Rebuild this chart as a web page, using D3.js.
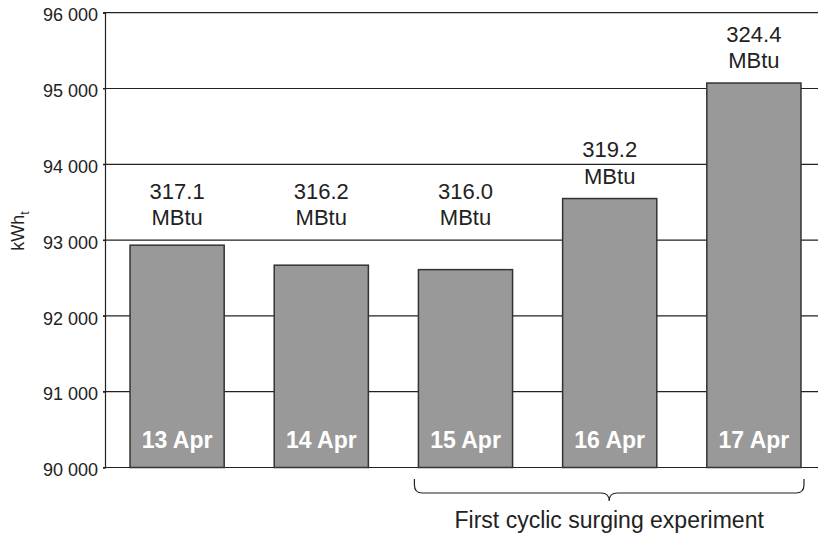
<!DOCTYPE html>
<html>
<head>
<meta charset="utf-8">
<script src="https://cdnjs.cloudflare.com/ajax/libs/d3/7.8.5/d3.min.js"></script>
<style>
  html, body { margin: 0; padding: 0; background: #fff; }
  text { font-family: "Liberation Sans", Arial, sans-serif; }
</style>
</head>
<body>
<svg id="chart" width="819" height="536"></svg>
<script>
// Daily thermal energy, April
const days = ["13 Apr", "14 Apr", "15 Apr", "16 Apr", "17 Apr"];
const mbtu = [317.1, 316.2, 316.0, 319.2, 324.4];
const KWH_PER_MBTU = 293.071;
const kwh = mbtu.map(v => v * KWH_PER_MBTU);
const yTicks = [90000, 91000, 92000, 93000, 94000, 95000, 96000];
const experimentDays = ["15 Apr", "16 Apr", "17 Apr"];
const experimentLabel = "First cyclic surging experiment";

const svg = d3.select("#chart");
const plotLeft = 105, plotRight = 818, plotTop = 12.7, plotBottom = 467.5;

const x = d3.scaleBand().domain(days).range([plotLeft, 826]).paddingInner(0.347).paddingOuter(0.1735);
const y = d3.scaleLinear().domain([90000, 96000]).range([plotBottom, plotTop]);

// gridlines
svg.append("g").selectAll("line").data(yTicks).join("line")
  .attr("x1", plotLeft - 2).attr("x2", plotRight)
  .attr("y1", d => y(d)).attr("y2", d => y(d))
  .attr("stroke", "#222").attr("stroke-width", 1.2);

// y axis
const yAxis = d3.axisLeft(y).tickValues(yTicks).tickSize(2).tickPadding(5)
  .tickFormat(d => d3.format(",")(d).replace(",", " "));
const gy = svg.append("g").attr("transform", `translate(${plotLeft},0)`).call(yAxis);
gy.select(".domain").attr("stroke", "#222").attr("stroke-width", 1.2);
gy.selectAll(".tick line").attr("stroke", "#222");
gy.selectAll(".tick text").attr("font-size", 18).attr("fill", "#222").attr("dy", "0.45em")
  .attr("font-family", "Liberation Sans, Arial, sans-serif");

// axis title kWh_t
const title = svg.append("text")
  .attr("transform", `translate(24,231) rotate(-90)`)
  .attr("text-anchor", "middle").attr("font-size", 18).attr("fill", "#222");
title.append("tspan").text("kWh");
title.append("tspan").attr("font-size", 12).attr("dy", 5).text("t");

// bars
const rows = days.map((d, i) => ({ day: d, v: kwh[i], m: mbtu[i] }));
svg.append("g").selectAll("rect").data(rows).join("rect")
  .attr("x", d => x(d.day)).attr("width", x.bandwidth())
  .attr("y", d => y(d.v)).attr("height", d => y(90000) - y(d.v))
  .attr("fill", "#999999").attr("stroke", "#333").attr("stroke-width", 1.5);

// day labels inside bars
svg.append("g").selectAll("text").data(rows).join("text")
  .attr("x", d => x(d.day) + x.bandwidth() / 2).attr("y", plotBottom - 20)
  .attr("text-anchor", "middle").attr("font-size", 23).attr("font-weight", "bold")
  .attr("fill", "#fff").text(d => d.day);

// value labels above bars
const labelBase = d => Math.min(y(d.v) - 15, y(93000) - 15);
const vl = svg.append("g").selectAll("text").data(rows).join("text")
  .attr("text-anchor", "middle").attr("font-size", 22).attr("fill", "#222");
vl.append("tspan").attr("x", d => x(d.day) + x.bandwidth() / 2)
  .attr("y", d => labelBase(d) - 26.5).text(d => d.m.toFixed(1));
vl.append("tspan").attr("x", d => x(d.day) + x.bandwidth() / 2)
  .attr("y", d => labelBase(d)).text("MBtu");

// brace under the experiment days
const bx0 = x(experimentDays[0]) - 4;
const bx1 = x(experimentDays[experimentDays.length - 1]) + x.bandwidth() + 3;
const bm = (bx0 + bx1) / 2;
const bt = 479, bl = 493, btip = 501, r = 8;
const brace = d3.path();
brace.moveTo(bx0, bt);
brace.lineTo(bx0, bl - r);
brace.quadraticCurveTo(bx0, bl, bx0 + r, bl);
brace.lineTo(bm - r, bl);
brace.quadraticCurveTo(bm, bl, bm, btip);
brace.quadraticCurveTo(bm, bl, bm + r, bl);
brace.lineTo(bx1 - r, bl);
brace.quadraticCurveTo(bx1, bl, bx1, bl - r);
brace.lineTo(bx1, bt);
svg.append("path").attr("d", brace.toString())
  .attr("fill", "none").attr("stroke", "#222").attr("stroke-width", 1.2);

svg.append("text").attr("x", bm).attr("y", 528)
  .attr("text-anchor", "middle").attr("font-size", 23).attr("fill", "#222")
  .text(experimentLabel);
</script>
</body>
</html>
